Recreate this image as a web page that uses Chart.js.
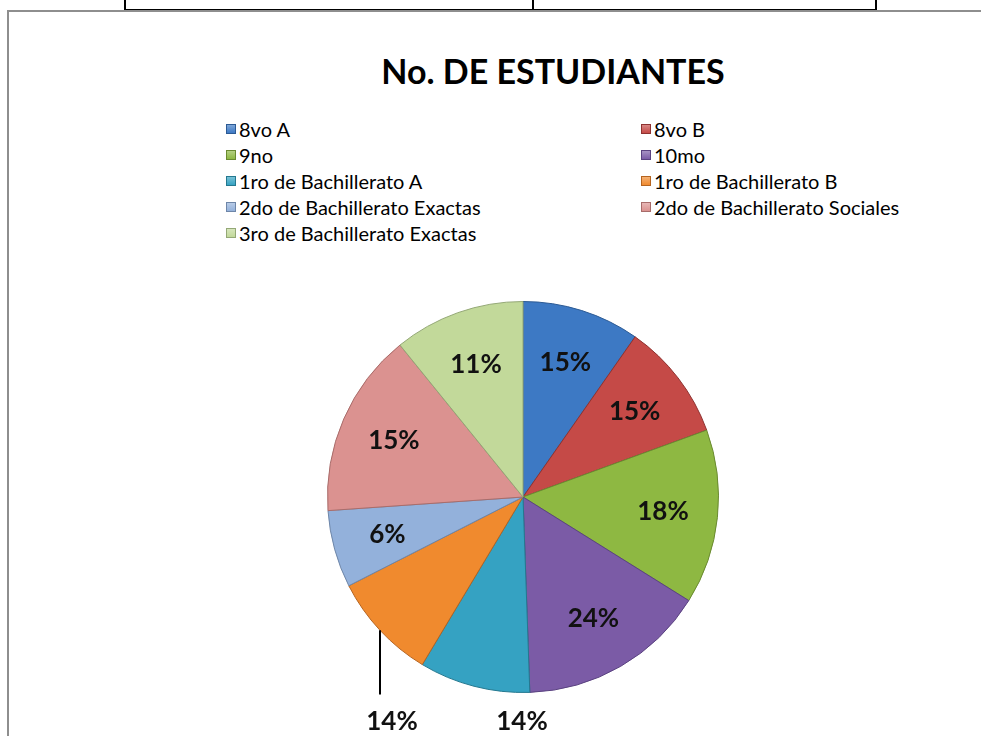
<!DOCTYPE html>
<html>
<head>
<meta charset="utf-8">
<script src="https://cdn.jsdelivr.net/npm/chart.js@4.4.1/dist/chart.umd.min.js"></script>
<style>
  body { margin: 0; background: #fff; width: 981px; height: 736px; overflow: hidden; position: relative; font-family: Lato, "Open Sans", sans-serif; }
  #tabla { position: absolute; left: 124px; top: -4px; width: 749px; height: 11px; border: 2px solid #000; }
  #tabla div { position: absolute; left: 406px; top: 0; bottom: 0; border-left: 2px solid #000; }
  #marco { position: absolute; left: 7px; top: 10px; width: 1000px; height: 800px; border: 2px solid #8e8e8e; }
  #titulo { position: absolute; left: 353px; top: 50px; width: 400px; text-align: center; font-size: 34px; font-weight: bold; color: #000; }
  #leyenda { position: absolute; left: 226px; top: 117px; display: grid; grid-template-columns: 415px 320px; row-gap: 3px; font-size: 20px; color: #000; }
  #leyenda span { display: flex; align-items: center; height: 23px; white-space: nowrap; }
  #leyenda i { display: inline-block; width: 8px; height: 8px; margin-right: 3px; }
  #grafico { position: absolute; left: 0; top: 0; }
</style>
</head>
<body>
<div id="tabla"><div></div></div>
<div id="marco"></div>
<div id="titulo">No. DE ESTUDIANTES</div>
<div id="leyenda"></div>
<canvas id="grafico" width="981" height="736"></canvas>
<script>
const cursos = ["8vo A", "8vo B", "9no", "10mo", "1ro de Bachillerato A", "1ro de Bachillerato B",
  "2do de Bachillerato  Exactas", "2do de Bachillerato Sociales", "3ro de Bachillerato  Exactas"]
// tamano de cada porcion
const estudiantes = [35, 35, 52, 56, 33, 32, 23, 55, 39]
// porcentajes tal como aparecen escritos en el grafico
const porcentajes = ["15%", "15%", "18%", "24%", "14%", "14%", "6%", "15%", "11%"]
const colores = ["#3d79c4", "#c54a47", "#8eb842", "#7b5ba6", "#35a2c2", "#f08a2e", "#93b1db", "#db9290", "#c2d99a"]
const bordes = ["#2c5a94", "#8e3230", "#6a8a30", "#5a4280", "#24788f", "#b56420", "#6e86a8", "#a86c6a", "#94a876"]

// leyenda en dos columnas
const leyenda = document.getElementById("leyenda")
for (let i = 0; i < cursos.length; i++) {
  const s = document.createElement("span")
  const c = document.createElement("i")
  c.style.background = "linear-gradient(" + colores[i] + "aa, " + colores[i] + ")"
  c.style.border = "1px solid " + bordes[i]
  s.appendChild(c)
  s.appendChild(document.createTextNode(cursos[i]))
  leyenda.appendChild(s)
}

const etiquetas = {
  id: "etiquetas",
  afterDatasetsDraw(chart) {
    const ctx = chart.ctx
    const arcos = chart.getDatasetMeta(0).data
    ctx.save()
    ctx.font = "bold 26px Lato"
    ctx.fillStyle = "#111"
    ctx.textAlign = "center"
    ctx.textBaseline = "middle"
    arcos.forEach((a, i) => {
      const p = a.getProps(["x", "y", "startAngle", "endAngle", "outerRadius"], true)
      const mid = (p.startAngle + p.endAngle) / 2
      let x = p.x + Math.cos(mid) * p.outerRadius * 0.72
      let y = p.y + Math.sin(mid) * p.outerRadius * 0.72
      if (i == 4) {
        x = p.x - 1
        y = p.y + p.outerRadius + 29
      }
      if (i == 5) {
        x = p.x - 131
        y = p.y + p.outerRadius + 29
        // linea guia
        const lx = p.x - 143
        const ly = p.y + Math.sqrt(p.outerRadius * p.outerRadius - 143 * 143)
        ctx.strokeStyle = "#000"
        ctx.lineWidth = 2
        ctx.beginPath()
        ctx.moveTo(lx, ly)
        ctx.lineTo(lx, p.y + p.outerRadius + 2)
        ctx.stroke()
      }
      ctx.fillText(porcentajes[i], x, y)
    })
    ctx.restore()
  }
}

new Chart(document.getElementById("grafico"), {
  type: "pie",
  data: {
    labels: cursos,
    datasets: [{
      data: estudiantes,
      backgroundColor: colores,
      borderColor: bordes,
      borderWidth: 1
    }]
  },
  options: {
    responsive: false,
    animation: false,
    layout: { padding: { left: 327, right: 262, top: 300, bottom: 42 } },
    plugins: {
      legend: { display: false },
      tooltip: { enabled: false }
    }
  },
  plugins: [etiquetas]
})
</script>
</body>
</html>
